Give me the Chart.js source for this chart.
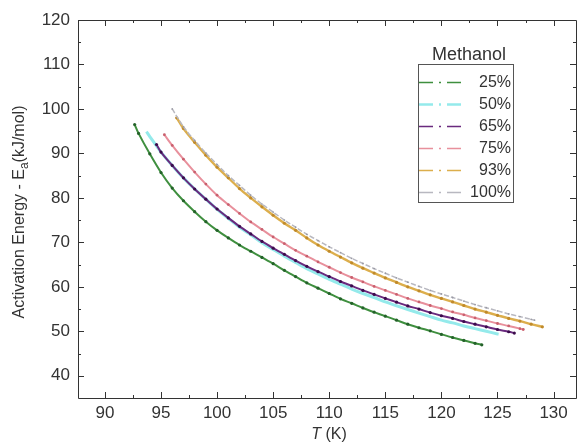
<!DOCTYPE html>
<html><head><meta charset="utf-8">
<script src="https://cdn.jsdelivr.net/npm/chart.js@4/dist/chart.umd.min.js"></script>
<style>html,body{margin:0;padding:0;overflow:hidden;background:#fff;width:578px;height:444px}canvas{display:block}</style>
</head><body>
<canvas id="c" width="580" height="444" style="width:580px;height:444px"></canvas>
<script>
// ---- data ----
const seriesLabels = ['25%', '50%', '65%', '75%', '93%', '100%'];
const legendTitle = 'Methanol';
const xTickValues = [90, 95, 100, 105, 110, 115, 120, 125, 130];
const yTickValues = [40, 50, 60, 70, 80, 90, 100, 110, 120];

const t25 = [92.65, 93, 94, 95, 96, 97, 98, 99, 100, 101, 102, 103, 104, 105, 106, 107, 108, 109, 110, 111, 112, 113, 114, 115, 116, 117, 118, 119, 120, 121, 122, 123, 123.6];
const e25 = [96.5, 94.5, 89.9, 85.7, 82.2, 79.35, 76.9, 74.65, 72.7, 71.0, 69.4, 68.0, 66.6, 65.2, 63.7, 62.3, 60.9, 59.7, 58.5, 57.3, 56.3, 55.25, 54.3, 53.4, 52.5, 51.6, 50.8, 50.1, 49.3, 48.6, 47.95, 47.3, 46.96];

const t50 = [93.7, 94, 95, 96, 97, 98, 99, 100, 101, 102, 103, 104, 105, 106, 107, 108, 109, 110, 111, 112, 113, 114, 115, 116, 117, 118, 119, 120, 121, 122, 123, 124, 125, 125.1];
const e50 = [94.9, 93.8, 90.3, 87.3, 84.5, 82.0, 79.7, 77.4, 75.4, 73.4, 71.7, 69.9, 68.4, 66.9, 65.5, 64.1, 62.9, 61.7, 60.6, 59.5, 58.5, 57.6, 56.6, 55.75, 54.9, 54.1, 53.3, 52.5, 51.9, 51.2, 50.6, 50.0, 49.4, 49.35];

const t65 = [94.6, 95, 96, 97, 98, 99, 100, 101, 102, 103, 104, 105, 106, 107, 108, 109, 110, 111, 112, 113, 114, 115, 116, 117, 118, 119, 120, 121, 122, 123, 124, 125, 126, 126.5];
const e65 = [92.0, 90.3, 87.3, 84.5, 82.0, 79.7, 77.5, 75.5, 73.6, 71.9, 70.2, 68.7, 67.3, 65.9, 64.6, 63.4, 62.3, 61.2, 60.2, 59.2, 58.3, 57.4, 56.55, 55.7, 55.0, 54.2, 53.5, 52.9, 52.2, 51.6, 51.0, 50.4, 49.9, 49.6];

const t75 = [95.3, 96, 97, 98, 99, 100, 101, 102, 103, 104, 105, 106, 107, 108, 109, 110, 111, 112, 113, 114, 115, 116, 117, 118, 119, 120, 121, 122, 123, 124, 125, 126, 127, 127.3];
const e75 = [94.2, 91.8, 88.7, 85.8, 83.1, 80.6, 78.5, 76.5, 74.6, 72.9, 71.2, 69.7, 68.2, 66.9, 65.6, 64.4, 63.2, 62.1, 61.1, 60.1, 59.2, 58.3, 57.4, 56.6, 55.8, 55.1, 54.35, 53.7, 53.0, 52.4, 51.75, 51.2, 50.6, 50.4];

const t93 = [96.4, 97, 98, 99, 100, 101, 102, 103, 104, 105, 106, 107, 108, 109, 110, 111, 112, 113, 114, 115, 116, 117, 118, 119, 120, 121, 122, 123, 124, 125, 126, 127, 128, 129];
const e93 = [98.0, 95.6, 92.5, 89.6, 86.9, 84.5, 82.1, 80.0, 78.0, 76.1, 74.3, 72.7, 71.0, 69.4, 68.0, 66.7, 65.4, 64.2, 63.1, 62.0, 61.0, 60.0, 59.1, 58.2, 57.4, 56.6, 55.8, 55.0, 54.3, 53.6, 52.9, 52.3, 51.6, 51.0];

const t100 = [96.0, 97, 98, 99, 100, 101, 102, 103, 104, 105, 106, 107, 108, 109, 110, 111, 112, 113, 114, 115, 116, 117, 118, 119, 120, 121, 122, 123, 124, 125, 126, 127, 128, 128.3];
const e100 = [100.0, 96.0, 92.9, 90.1, 87.5, 85.0, 82.8, 80.6, 78.6, 76.8, 75.0, 73.4, 71.8, 70.4, 69.0, 67.7, 66.4, 65.25, 64.1, 63.05, 62.0, 61.05, 60.1, 59.2, 58.4, 57.6, 56.8, 56.0, 55.3, 54.6, 53.9, 53.3, 52.7, 52.5];

// ---- styles ----
const FONT = "'Liberation Sans', Arial, sans-serif";
const styles = [
  {line: '#3f8f3f', point: '#24622a', width: 2, r: 1.6, order: 1},
  {line: '#94eaeb', point: '#94eaeb', width: 3, r: 0, order: 10},
  {line: '#6a2a7e', point: '#3c0c4c', width: 2, r: 1.6, order: 2},
  {line: '#e8909c', point: '#c9606e', width: 2, r: 1.4, order: 3},
  {line: '#dcae4c', point: '#c08a2a', width: 2.4, r: 1.6, order: 5},
  {line: '#b8b8c0', point: '#9a9aa4', width: 1.5, r: 0.9, order: 4}
];
const xs = [t25, t50, t65, t75, t93, t100];
const ys = [e25, e50, e65, e75, e93, e100];

const datasets = seriesLabels.map((lab, i) => ({
  label: lab,
  data: xs[i].map((t, k) => ({x: t, y: ys[i][k]})),
  borderColor: styles[i].line,
  backgroundColor: styles[i].point,
  pointBackgroundColor: styles[i].point,
  pointBorderWidth: 0,
  pointRadius: styles[i].r,
  borderWidth: styles[i].width,
  borderDash: i === 5 ? [5, 2] : [],
  order: styles[i].order,
  tension: 0.3,
  fill: false
}));

const frame = {
  id: 'frame',
  afterDraw(chart) {
    const ctx = chart.ctx, a = chart.chartArea, sx = chart.scales.x, sy = chart.scales.y;
    ctx.save();
    ctx.strokeStyle = '#333';
    ctx.lineWidth = 1;
    ctx.beginPath();
    ctx.rect(Math.round(a.left) + 0.5, Math.round(a.top) + 0.5, a.right - a.left, a.bottom - a.top);
    ctx.stroke();
    const tick = (x1, y1, x2, y2) => { ctx.moveTo(x1, y1); ctx.lineTo(x2, y2); };
    ctx.beginPath();
    xTickValues.forEach((v, i) => {
      const px = Math.round(sx.getPixelForValue(v)) + 0.5;
      tick(px, a.bottom, px, a.bottom - 6);
      tick(px, a.top, px, a.top + 6);
      const mids = [];
      if (i < xTickValues.length - 1) mids.push((v + xTickValues[i + 1]) / 2);
      if (i === 0) mids.push(v - (xTickValues[1] - v) / 2);
      if (i === xTickValues.length - 1) mids.push(v + (v - xTickValues[i - 1]) / 2);
      mids.forEach(m => {
        if (m < sx.min || m > sx.max) return;
        const mx = Math.round(sx.getPixelForValue(m)) + 0.5;
        tick(mx, a.bottom, mx, a.bottom - 3);
        tick(mx, a.top, mx, a.top + 3);
      });
    });
    yTickValues.forEach((v, i) => {
      const py = Math.round(sy.getPixelForValue(v)) + 0.5;
      tick(a.left, py, a.left + 6, py);
      tick(a.right, py, a.right - 6, py);
      if (i < yTickValues.length - 1) {
        const my = Math.round(sy.getPixelForValue((v + yTickValues[i + 1]) / 2)) + 0.5;
        tick(a.left, my, a.left + 3, my);
        tick(a.right, my, a.right - 3, my);
      }
    });
    ctx.stroke();

    // axis titles
    ctx.fillStyle = '#333';
    ctx.textBaseline = 'alphabetic';
    ctx.font = 'italic 16px ' + FONT;
    const wT = ctx.measureText('T').width;
    ctx.font = '16px ' + FONT;
    const wK = ctx.measureText(' (K)').width;
    const cx = (a.left + Math.min(a.right, 578)) / 2 + 2;
    let x0 = cx - (wT + wK) / 2;
    ctx.font = 'italic 16px ' + FONT;
    ctx.fillText('T', x0, 439);
    ctx.font = '16px ' + FONT;
    ctx.fillText(' (K)', x0 + wT, 439);

    ctx.save();
    ctx.translate(24, (a.top + a.bottom) / 2 + 3);
    ctx.rotate(-Math.PI / 2);
    const p1 = 'Activation Energy - E', p2 = 'a', p3 = '(kJ/mol)';
    ctx.font = '16px ' + FONT;
    const w1 = ctx.measureText(p1).width, w3 = ctx.measureText(p3).width;
    ctx.font = '12px ' + FONT;
    const w2 = ctx.measureText(p2).width;
    let s = -(w1 + w2 + w3) / 2;
    ctx.font = '16px ' + FONT;
    ctx.fillText(p1, s, 0);
    ctx.font = '12px ' + FONT;
    ctx.fillText(p2, s + w1, 4);
    ctx.font = '16px ' + FONT;
    ctx.fillText(p3, s + w1 + w2, 0);
    ctx.restore();

    // legend
    const L = 418, R = 513, T = 64, B = 202;
    ctx.strokeStyle = '#555';
    ctx.lineWidth = 1;
    ctx.strokeRect(L + 0.5, T + 0.5, R - L, B - T);
    ctx.font = '18px ' + FONT;
    ctx.textAlign = 'center';
    ctx.fillStyle = '#333';
    ctx.fillText(legendTitle, 469, 60);
    ctx.font = '16px ' + FONT;
    ctx.textAlign = 'right';
    ctx.textBaseline = 'middle';
    chart.data.datasets.forEach((ds, i) => {
      const yy = 82 + i * 21.9;
      ctx.save();
      ctx.strokeStyle = ds.borderColor;
      ctx.lineWidth = i === 1 ? 2.5 : 1.6;
      ctx.setLineDash([14, 6, 2, 6, 14]);
      ctx.beginPath();
      ctx.moveTo(419, Math.round(yy) + 0.5);
      ctx.lineTo(461, Math.round(yy) + 0.5);
      ctx.stroke();
      ctx.restore();
      ctx.fillStyle = '#333';
      ctx.fillText(ds.label, 511, yy + 1);
    });
    ctx.restore();
  }
};

new Chart(document.getElementById('c'), {
  type: 'line',
  data: {datasets},
  options: {
    responsive: false,
    animation: false,
    devicePixelRatio: 1,
    layout: {padding: {left: 0, right: 0, top: 20, bottom: 0}},
    plugins: {legend: {display: false}, tooltip: {enabled: false}},
    scales: {
      x: {
        type: 'linear', min: 87.6, max: 132,
        afterBuildTicks: s => { s.ticks = xTickValues.map(v => ({value: v})); },
        afterFit: s => { s.height = 46; },
        grid: {display: false, drawTicks: false},
        border: {display: false},
        ticks: {color: '#333', font: {family: FONT, size: 17}, padding: 5, maxRotation: 0, autoSkip: false}
      },
      y: {
        type: 'linear', min: 35, max: 120,
        afterBuildTicks: s => { s.ticks = yTickValues.map(v => ({value: v})); },
        afterFit: s => { s.width = 78; },
        grid: {display: false, drawTicks: false},
        border: {display: false},
        ticks: {color: '#333', font: {family: FONT, size: 17}, padding: 8, autoSkip: false}
      }
    }
  },
  plugins: [frame]
});
</script>
</body></html>
